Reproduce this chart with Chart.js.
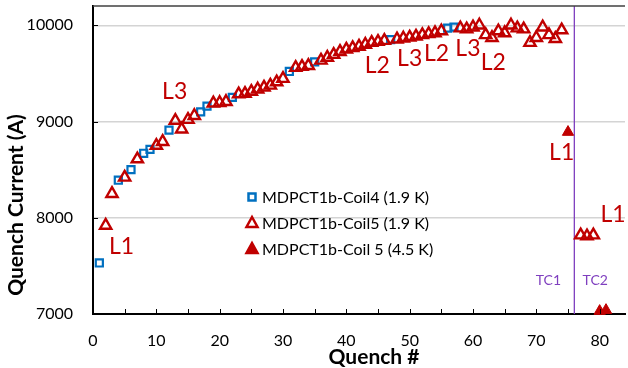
<!DOCTYPE html>
<html>
<head>
<meta charset="utf-8">
<script src="https://cdn.jsdelivr.net/npm/chart.js@4.4.1/dist/chart.umd.min.js"></script>
<style>
  body { margin: 0; background: #fff; }
</style>
</head>
<body>
<canvas id="chart" width="628" height="368"></canvas>
<script>
// quench # and current (A) for each series
const coil4Quench = [1, 4, 6, 8, 9, 12, 17, 18, 22, 31, 35, 47, 56, 57];
const coil4Current = [7530, 8390, 8500, 8670, 8710, 8910, 9100, 9160, 9250, 9520, 9620, 9850, 9970, 9980];

const coil5Quench = [2, 3, 5, 7, 10, 11, 13, 14, 15, 16, 19, 20, 21,
  23, 24, 25, 26, 27, 28, 29, 30, 32, 33, 34,
  36, 37, 38, 39, 40, 41, 42, 43, 44, 45, 46,
  48, 49, 50, 51, 52, 53, 54, 55,
  58, 59, 60, 61, 62, 63, 64, 65, 66, 67, 68, 69, 70, 71, 72, 73, 74,
  77, 78, 79];
const coil5Current = [7920, 8250, 8420, 8610, 8750, 8790, 9010, 8920, 9020, 9060, 9190, 9195, 9205,
  9285, 9290, 9310, 9335, 9355, 9375, 9410, 9445, 9560, 9570, 9580,
  9635, 9665, 9695, 9725, 9750, 9765, 9780, 9800, 9820, 9830, 9840,
  9855, 9865, 9875, 9885, 9900, 9910, 9920, 9940,
  9970, 9960, 9980, 10000, 9900, 9870, 9940, 9920, 10000, 9970, 9960, 9820, 9870, 9980, 9900, 9860, 9950,
  7820, 7810, 7820];

const coil5WarmQuench = [75, 80, 81];
const coil5WarmCurrent = [8890, 7030, 7040];

const tcLineQuench = 76;

const xTicks = [0, 5, 10, 15, 20, 25, 30, 35, 40, 45, 50, 55, 60, 65, 70, 75, 80];
const yTicks = [7000, 8000, 9000, 10000];

const noteText = ['L1', 'L3', 'L2', 'L3', 'L2', 'L3', 'L2', 'L1', 'L1'];
const noteQuench = [4.5, 12.9, 44.9, 50.0, 54.25, 59.2, 63.2, 74.0, 82.1];
const noteCurrent = [7705, 9315, 9585, 9650, 9705, 9755, 9615, 8675, 8035];

const tcText = ['TC1', 'TC2'];
const tcQuench = [71.9, 79.3];
const tcCurrent = [7350, 7350];

const legendNames = ['MDPCT1b-Coil4 (1.9 K)', 'MDPCT1b-Coil5 (1.9 K)', 'MDPCT1b-Coil 5 (4.5 K)'];

const BLUE = '#0070c0';
const RED = '#c00000';
const PURPLE = '#7f3fbf';

function pts(xs, ys) {
  return xs.map((q, i) => ({ x: q, y: ys[i] }));
}

const overlay = {
  id: 'overlay',
  afterDraw(chart) {
    const { ctx, chartArea, scales } = chart;
    const x = scales.x;
    const y = scales.y;
    ctx.save();

    // top frame line
    ctx.strokeStyle = '#404040';
    ctx.lineWidth = 1.5;
    ctx.beginPath();
    ctx.moveTo(chartArea.left, chartArea.top);
    ctx.lineTo(chartArea.right, chartArea.top);
    ctx.stroke();

    // inside tick marks
    ctx.strokeStyle = '#000';
    ctx.lineWidth = 1;
    ctx.beginPath();
    xTicks.forEach((v) => {
      const px = Math.round(x.getPixelForValue(v)) + 0.5;
      ctx.moveTo(px, chartArea.bottom);
      ctx.lineTo(px, chartArea.bottom - 5);
    });
    yTicks.forEach((v) => {
      const py = Math.round(y.getPixelForValue(v)) + 0.5;
      ctx.moveTo(chartArea.left, py);
      ctx.lineTo(chartArea.left + 5, py);
    });
    ctx.stroke();

    // L labels
    ctx.fillStyle = RED;
    ctx.font = '23px Lato';
    ctx.textAlign = 'center';
    ctx.textBaseline = 'middle';
    noteText.forEach((t, i) => {
      ctx.fillText(t, x.getPixelForValue(noteQuench[i]), y.getPixelForValue(noteCurrent[i]));
    });

    // TC labels
    ctx.fillStyle = PURPLE;
    ctx.font = '14px Lato';
    tcText.forEach((t, i) => {
      ctx.fillText(t, x.getPixelForValue(tcQuench[i]), y.getPixelForValue(tcCurrent[i]));
    });

    // legend
    const lx = 252;
    const rows = [197, 223, 249];
    ctx.font = '16px Lato';
    ctx.textAlign = 'left';
    ctx.fillStyle = '#000';
    legendNames.forEach((t, i) => ctx.fillText(t, lx + 10, rows[i] + 1));
    ctx.lineWidth = 2.5;
    ctx.strokeStyle = BLUE;
    ctx.strokeRect(lx - 3.5, rows[0] - 3.5, 7, 7);
    ctx.strokeStyle = RED;
    ctx.fillStyle = RED;
    [1, 2].forEach((i) => {
      ctx.beginPath();
      ctx.moveTo(lx, rows[i] - 6);
      ctx.lineTo(lx + 5.5, rows[i] + 4);
      ctx.lineTo(lx - 5.5, rows[i] + 4);
      ctx.closePath();
      if (i === 2) ctx.fill();
      ctx.stroke();
    });

    // axis titles
    ctx.fillStyle = '#000';
    ctx.font = 'bold 21px Lato';
    ctx.textAlign = 'center';
    ctx.fillText('Quench #', 374, 357);
    ctx.translate(16, 205);
    ctx.rotate(-Math.PI / 2);
    ctx.fillText('Quench Current (A)', 0, 0);
    ctx.restore();
  }
};

new Chart(document.getElementById('chart'), {
  type: 'scatter',
  data: {
    datasets: [
      {
        label: legendNames[0],
        data: pts(coil4Quench, coil4Current),
        pointStyle: 'rect',
        pointRadius: 5,
        borderColor: BLUE,
        backgroundColor: 'rgba(0,0,0,0)',
        pointBorderWidth: 2.2,
        order: 3
      },
      {
        label: legendNames[1],
        data: pts(coil5Quench, coil5Current),
        pointStyle: 'triangle',
        pointRadius: 6.5,
        borderColor: RED,
        backgroundColor: 'rgba(0,0,0,0)',
        pointBorderWidth: 2.4,
        order: 1
      },
      {
        label: legendNames[2],
        data: pts(coil5WarmQuench, coil5WarmCurrent),
        pointStyle: 'triangle',
        pointRadius: 6.5,
        borderColor: RED,
        backgroundColor: RED,
        pointBorderWidth: 1,
        clip: false,
        order: 0
      },
      {
        label: 'TC',
        data: [{ x: tcLineQuench, y: 7000 }, { x: tcLineQuench, y: 10200 }],
        showLine: true,
        borderColor: PURPLE,
        borderWidth: 1.3,
        pointRadius: 0,
        order: 4
      }
    ]
  },
  options: {
    responsive: false,
    animation: false,
    devicePixelRatio: 1,
    layout: { autoPadding: false, padding: { top: 6, right: 3, left: 0, bottom: 0 } },
    plugins: {
      legend: { display: false },
      tooltip: { enabled: false }
    },
    scales: {
      x: {
        type: 'linear',
        min: 0,
        max: 84,
        afterBuildTicks: (scale) => {
          scale.ticks = xTicks.map((v) => ({ value: v }));
        },
        afterFit: (scale) => {
          scale.height = 54;
          scale.paddingLeft = 0;
          scale.paddingRight = 0;
        },
        grid: { drawOnChartArea: false, drawTicks: false },
        border: { color: '#000', width: 2 },
        ticks: {
          autoSkip: false,
          maxRotation: 0,
          padding: 17,
          color: '#000',
          font: { family: 'Lato', size: 16 },
          callback: (v) => (v % 10 === 0 ? String(v) : '')
        }
      },
      y: {
        min: 7000,
        max: 10200,
        afterBuildTicks: (scale) => {
          scale.ticks = yTicks.map((v) => ({ value: v }));
        },
        afterFit: (scale) => {
          scale.width = 93;
          scale.paddingTop = 0;
          scale.paddingBottom = 0;
        },
        grid: {
          drawTicks: false,
          lineWidth: 1.5,
          color: (c) => (c.tick && c.tick.value === 7000 ? 'rgba(0,0,0,0)' : '#d4d4d4')
        },
        border: { color: '#000', width: 2 },
        ticks: {
          padding: 20,
          color: '#000',
          font: { family: 'Lato', size: 16 },
          callback: (v) => String(v)
        }
      }
    }
  },
  plugins: [overlay]
});
</script>
</body>
</html>
